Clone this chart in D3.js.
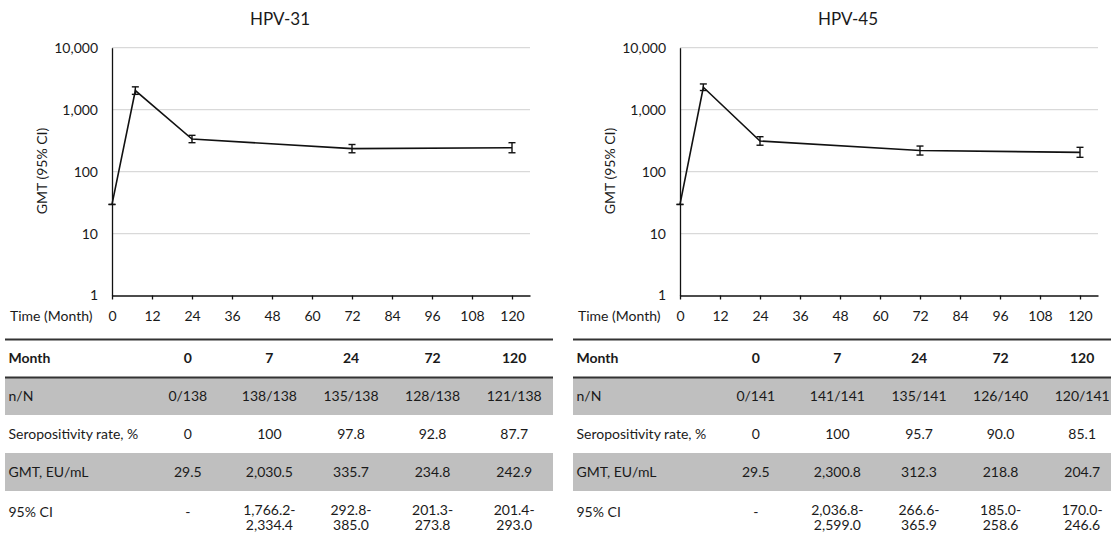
<!DOCTYPE html>
<html>
<head>
<meta charset="utf-8">
<script src="https://cdn.jsdelivr.net/npm/d3@7"></script>
<style>
  body { margin: 0; background: #fff; }
  text { font-family: Lato, "Open Sans", sans-serif; fill: #1a1a1a; }
  .grid line { stroke: #d9d9d9; stroke-width: 1.3; }
  .axis path, .axis line { stroke: #111; stroke-width: 1.3; }
</style>
</head>
<body>
<div id="chart"></div>
<script>
var months = [0, 7, 24, 72, 120];
var xTicks = [0, 12, 24, 36, 48, 60, 72, 84, 96, 108, 120];
var yTicks = [1, 10, 100, 1000, 10000];
var rowLabels = ["n/N", "Seropositivity rate, %", "GMT, EU/mL", "95% CI"];

var hpv31Gmt = [29.5, 2030.5, 335.7, 234.8, 242.9];
var hpv31Lo = [null, 1766.2, 292.8, 201.3, 201.4];
var hpv31Hi = [null, 2334.4, 385.0, 273.8, 293.0];
var hpv31N = ["0/138", "138/138", "135/138", "128/138", "121/138"];
var hpv31Sero = ["0", "100", "97.8", "92.8", "87.7"];

var hpv45Gmt = [29.5, 2300.8, 312.3, 218.8, 204.7];
var hpv45Lo = [null, 2036.8, 266.6, 185.0, 170.0];
var hpv45Hi = [null, 2599.0, 365.9, 258.6, 246.6];
var hpv45N = ["0/141", "141/141", "135/141", "126/140", "120/141"];
var hpv45Sero = ["0", "100", "95.7", "90.0", "85.1"];

var W = 1111, H = 533;
var svg = d3.select("#chart").append("svg")
    .attr("width", W)
    .attr("height", H);

var fmt = d3.format(",.1f");

function drawPanel(left, title, gmt, lo, hi, nN, sero) {
    var g = svg.append("g").attr("transform", "translate(" + left + ",0)");

    // plot area
    var x = d3.scaleLinear().domain([0, 125.4]).range([107, 525]);
    var y = d3.scaleLog().domain([1, 10000]).range([295.5, 47.7]);

    g.append("text")
        .attr("x", 275).attr("y", 25)
        .attr("text-anchor", "middle")
        .style("font-size", "17px")
        .text(title);

    // gridlines
    g.append("g").attr("class", "grid")
        .selectAll("line")
        .data(yTicks.slice(1))
        .enter().append("line")
        .attr("x1", x(0)).attr("x2", x(125.4))
        .attr("y1", function(d) { return y(d); })
        .attr("y2", function(d) { return y(d); });

    var yAxis = g.append("g").attr("class", "axis")
        .attr("transform", "translate(" + x(0) + ",0)")
        .call(d3.axisLeft(y).tickValues(yTicks).tickSize(0).tickPadding(14)
            .tickFormat(d3.format(",")));
    yAxis.selectAll("text").style("font-size", "14px");

    var xAxis = g.append("g").attr("class", "axis")
        .attr("transform", "translate(0," + y(1) + ")")
        .call(d3.axisBottom(x).tickValues(xTicks).tickSizeInner(4).tickSizeOuter(0).tickPadding(11.5));
    xAxis.selectAll("text").style("font-size", "14px");

    g.append("text")
        .attr("transform", "translate(37," + 171 + ") rotate(-90)")
        .attr("text-anchor", "middle")
        .attr("dy", "0.35em")
        .style("font-size", "14px")
        .text("GMT (95% CI)");

    g.append("text")
        .attr("x", 5).attr("y", y(1) + 15.5)
        .attr("dy", "0.71em")
        .style("font-size", "14px")
        .text("Time (Month)");

    // line
    var pts = months.map(function(m, i) {
        return {m: m, v: gmt[i], lo: lo[i] == null ? gmt[i] : lo[i], hi: hi[i] == null ? gmt[i] : hi[i]};
    });
    var line = d3.line()
        .x(function(d) { return x(d.m); })
        .y(function(d) { return y(d.v); });
    g.append("path")
        .datum(pts)
        .attr("d", line)
        .attr("fill", "none")
        .attr("stroke", "#111")
        .attr("stroke-width", 1.6);

    // error bars
    var eb = g.selectAll(".eb").data(pts).enter().append("g").attr("class", "eb")
        .attr("stroke", "#111").attr("stroke-width", 1.4);
    eb.append("line")
        .attr("x1", function(d) { return x(d.m); }).attr("x2", function(d) { return x(d.m); })
        .attr("y1", function(d) { return y(d.lo); }).attr("y2", function(d) { return y(d.hi); });
    eb.append("line")
        .attr("x1", function(d) { return x(d.m) - 3.5; }).attr("x2", function(d) { return x(d.m) + 3.5; })
        .attr("y1", function(d) { return y(d.lo); }).attr("y2", function(d) { return y(d.lo); });
    eb.append("line")
        .attr("x1", function(d) { return x(d.m) - 3.5; }).attr("x2", function(d) { return x(d.m) + 3.5; })
        .attr("y1", function(d) { return y(d.hi); }).attr("y2", function(d) { return y(d.hi); });

    // table
    var rowTop = [339.5, 377.5, 415, 453, 491, 533];
    var col = d3.scaleBand().domain(months).range([142, 550]);
    var cx = function(m) { return col(m) + col.bandwidth() / 2; };
    var tw = 548;

    g.append("rect").attr("x", 0).attr("y", rowTop[1]).attr("width", tw)
        .attr("height", rowTop[2] - rowTop[1]).attr("fill", "#bfbfbf");
    g.append("rect").attr("x", 0).attr("y", rowTop[3]).attr("width", tw)
        .attr("height", rowTop[4] - rowTop[3]).attr("fill", "#bfbfbf");

    g.append("line").attr("x1", 0).attr("x2", tw).attr("y1", rowTop[0]).attr("y2", rowTop[0])
        .attr("stroke", "#333").attr("stroke-width", 2);
    g.append("line").attr("x1", 0).attr("x2", tw).attr("y1", rowTop[1]).attr("y2", rowTop[1])
        .attr("stroke", "#333").attr("stroke-width", 2);

    function mid(i) { return (rowTop[i] + rowTop[i + 1]) / 2; }

    // header
    g.append("text").attr("x", 3.5).attr("y", mid(0)).attr("dy", "0.35em")
        .style("font-size", "14px").style("font-weight", "bold").text("Month");
    g.selectAll(".hd").data(months).enter().append("text")
        .attr("x", cx).attr("y", mid(0)).attr("dy", "0.35em")
        .attr("text-anchor", "middle")
        .style("font-size", "14px").style("font-weight", "bold")
        .text(function(d) { return d; });

    rowLabels.forEach(function(lab, i) {
        g.append("text").attr("x", 3.5).attr("y", mid(i + 1)).attr("dy", "0.35em")
            .style("font-size", "14px").text(lab);
    });

    var rows = [nN, sero, gmt.map(fmt)];
    rows.forEach(function(vals, r) {
        g.selectAll(".r" + r).data(vals).enter().append("text")
            .attr("x", function(d, i) { return cx(months[i]); })
            .attr("y", mid(r + 1)).attr("dy", "0.35em")
            .attr("text-anchor", "middle")
            .style("font-size", "14px")
            .text(function(d) { return d; });
    });

    // 95% CI, two lines
    months.forEach(function(m, i) {
        var t = g.append("text").attr("text-anchor", "middle").style("font-size", "14px");
        if (lo[i] == null) {
            t.attr("x", cx(m)).attr("y", mid(4)).attr("dy", "0.35em").text("-");
        } else {
            t.append("tspan").attr("x", cx(m)).attr("y", 510).attr("dy", "0.35em").text(fmt(lo[i]) + "-");
            t.append("tspan").attr("x", cx(m)).attr("y", 525.5).attr("dy", "0.35em").text(fmt(hi[i]));
        }
    });
}

drawPanel(5, "HPV-31", hpv31Gmt, hpv31Lo, hpv31Hi, hpv31N, hpv31Sero);
drawPanel(573, "HPV-45", hpv45Gmt, hpv45Lo, hpv45Hi, hpv45N, hpv45Sero);
</script>
</body>
</html>
